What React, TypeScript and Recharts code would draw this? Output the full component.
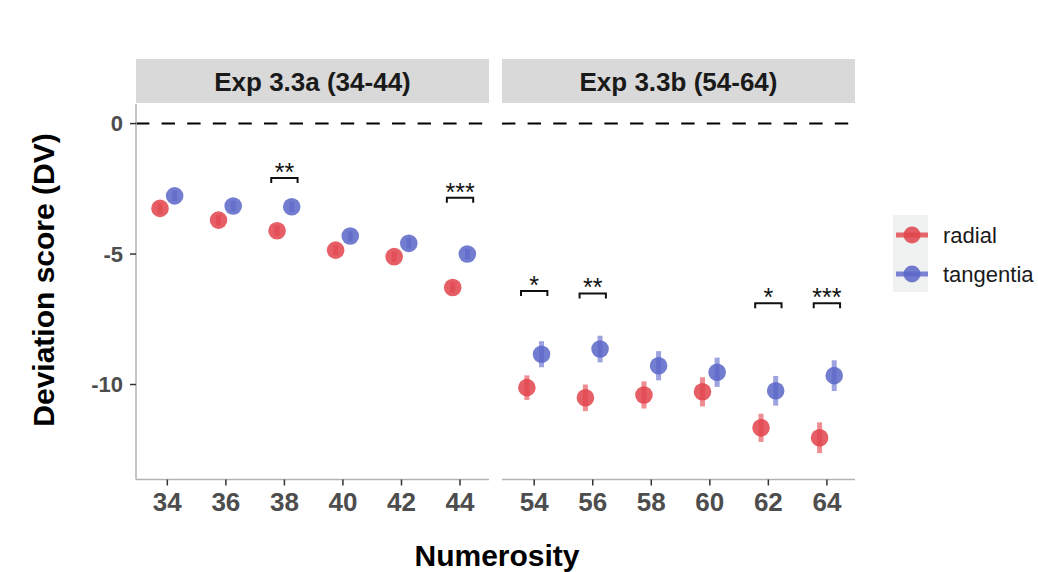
import React from "react";
import {
  ScatterChart,
  Scatter,
  XAxis,
  YAxis,
  ErrorBar,
  ReferenceLine,
} from "recharts";

// numerosity levels per experiment
const expAX = [34, 36, 38, 40, 42, 44];
const expBX = [54, 56, 58, 60, 62, 64];

// mean deviation scores
const radialA = [-3.25, -3.7, -4.11, -4.85, -5.1, -6.28];
const tangentialA = [-2.77, -3.16, -3.19, -4.31, -4.59, -5.0];
const radialB = [-10.12, -10.51, -10.4, -10.28, -11.66, -12.04];
const tangentialB = [-8.84, -8.64, -9.28, -9.53, -10.24, -9.66];

// error bar half-widths
const radialAErr = [0.2, 0.2, 0.2, 0.2, 0.2, 0.2];
const tangentialAErr = [0.2, 0.2, 0.2, 0.2, 0.2, 0.2];
const radialBErr = [0.47, 0.51, 0.52, 0.56, 0.54, 0.59];
const tangentialBErr = [0.5, 0.51, 0.56, 0.56, 0.57, 0.59];

// significance brackets
const sigAX = [38, 44];
const sigAY = [-2.09, -2.84];
const sigALabel = ["**", "***"];
const sigBX = [54, 56, 62, 64];
const sigBY = [-6.42, -6.51, -6.89, -6.89];
const sigBLabel = ["*", "**", "*", "***"];

const yTicks = [-10, -5, 0];
const yDomain: [number, number] = [-13.64, 0.75];

const RED = "#e2434b";
const BLUE = "#5b66c8";
const DODGE = 0.25;

const toPoints = (xs: number[], ys: number[], errs: number[], shift: number) =>
  xs.map((x, i) => ({ x: x + shift, y: ys[i], err: errs[i] }));

const dot = (color: string) => (p: any) =>
  <circle cx={p.cx} cy={p.cy} r={8.8} fill={color} fillOpacity={0.85} />;

const tickStyle = { fill: "#4d4d4d", fontWeight: "bold" as const };

interface PanelProps {
  xs: number[];
  radial: number[];
  tangential: number[];
  radialErr: number[];
  tangentialErr: number[];
  sigX: number[];
  sigY: number[];
  sigLabel: string[];
  domain: [number, number];
  showY: boolean;
  left: number;
  width: number;
}

function Panel(props: PanelProps) {
  const radialData = toPoints(props.xs, props.radial, props.radialErr, -DODGE);
  const tangData = toPoints(props.xs, props.tangential, props.tangentialErr, DODGE);
  const brackets = props.sigX.map((c, i) => [
    { x: c - 0.45, y: props.sigY[i] - 0.19 },
    { x: c - 0.45, y: props.sigY[i] },
    { x: c + 0.45, y: props.sigY[i] },
    { x: c + 0.45, y: props.sigY[i] - 0.19 },
  ]);
  const stars = props.sigX.map((c, i) => ({ x: c, y: props.sigY[i], label: props.sigLabel[i] }));

  return (
    <div style={{ position: "absolute", left: props.left, top: 0 }}>
      <ScatterChart
        width={props.width}
        height={572}
        margin={{ top: 104, right: 10, bottom: 52.5, left: props.showY ? 0 : 10 }}
      >
        <XAxis
          type="number"
          dataKey="x"
          domain={props.domain}
          ticks={props.xs}
          allowDataOverflow
          height={40}
          tick={{ ...tickStyle, fontSize: 26 }}
          tickSize={6}
          tickMargin={7}
          axisLine={{ stroke: "#b3b3b3", strokeWidth: 1.5 }}
          tickLine={{ stroke: "#333", strokeWidth: 1.5 }}
        />
        <YAxis
          type="number"
          dataKey="y"
          domain={yDomain}
          ticks={yTicks}
          allowDataOverflow
          hide={!props.showY}
          width={136}
          tick={{ ...tickStyle, fontSize: 22 }}
          tickSize={6}
          tickMargin={7}
          axisLine={{ stroke: "#b3b3b3", strokeWidth: 1.5 }}
          tickLine={{ stroke: "#333", strokeWidth: 1.5 }}
        />
        <ReferenceLine y={0} stroke="#000" strokeWidth={2} strokeDasharray="13.4 12.2" />
        <Scatter data={radialData} shape={dot(RED)} isAnimationActive={false}>
          <ErrorBar dataKey="err" direction="y" width={0} stroke={RED} strokeWidth={5} strokeOpacity={0.6} />
        </Scatter>
        <Scatter data={tangData} shape={dot(BLUE)} isAnimationActive={false}>
          <ErrorBar dataKey="err" direction="y" width={0} stroke={BLUE} strokeWidth={5} strokeOpacity={0.6} />
        </Scatter>
        {brackets.map((b, i) => (
          <Scatter
            key={"br" + i}
            data={b}
            line={{ stroke: "#111", strokeWidth: 2 }}
            lineJointType="linear"
            shape={() => <g />}
            isAnimationActive={false}
          />
        ))}
        <Scatter
          data={stars}
          isAnimationActive={false}
          shape={(p: any) => (
            <text x={p.cx} y={p.cy + 3} textAnchor="middle" fontSize={25} fill="#111">
              {p.payload.label}
            </text>
          )}
        />
      </ScatterChart>
    </div>
  );
}

export default function App() {
  return (
    <div
      style={{
        position: "absolute",
        left: 0,
        top: 0,
        width: 1038,
        height: 572,
        overflow: "hidden",
        background: "#fff",
        fontFamily: "'Liberation Sans', Arial, sans-serif",
      }}
    >
      <svg width={1038} height={572} style={{ position: "absolute", left: 0, top: 0 }}>
        <rect x={136} y={59} width={353} height={44} fill="#d9d9d9" />
        <rect x={502} y={59} width={353} height={44} fill="#d9d9d9" />
        <text x={312.5} y={90.5} textAnchor="middle" fontSize={26} fontWeight="bold" fill="#1a1a1a">
          Exp 3.3a (34-44)
        </text>
        <text x={678.5} y={90.5} textAnchor="middle" fontSize={26} fontWeight="bold" fill="#1a1a1a">
          Exp 3.3b (54-64)
        </text>
        <text
          transform="translate(54,280) rotate(-90)"
          textAnchor="middle"
          fontSize={30}
          fontWeight="bold"
          fill="#000"
        >
          Deviation score (DV)
        </text>
        <text x={497} y={566} textAnchor="middle" fontSize={30} fontWeight="bold" fill="#000">
          Numerosity
        </text>
        {/* legend */}
        <rect x={893} y={215} width={35} height={77} fill="#f0f2f2" />
        <line x1={896} x2={928} y1={235} y2={235} stroke={RED} strokeWidth={5} strokeOpacity={0.8} />
        <circle cx={912} cy={235} r={8.5} fill={RED} fillOpacity={0.85} />
        <line x1={896} x2={928} y1={274} y2={274} stroke={BLUE} strokeWidth={5} strokeOpacity={0.8} />
        <circle cx={912} cy={274} r={8.5} fill={BLUE} fillOpacity={0.85} />
        <text x={943} y={243} fontSize={22} fill="#1a1a1a">radial</text>
        <text x={943} y={282} fontSize={22} fill="#1a1a1a">tangentia</text>
      </svg>
      <Panel
        xs={expAX}
        radial={radialA}
        tangential={tangentialA}
        radialErr={radialAErr}
        tangentialErr={tangentialAErr}
        sigX={sigAX}
        sigY={sigAY}
        sigLabel={sigALabel}
        domain={[32.93, 44.99]}
        showY={true}
        left={0}
        width={499}
      />
      <Panel
        xs={expBX}
        radial={radialB}
        tangential={tangentialB}
        radialErr={radialBErr}
        tangentialErr={tangentialBErr}
        sigX={sigBX}
        sigY={sigBY}
        sigLabel={sigBLabel}
        domain={[52.9, 64.96]}
        showY={false}
        left={492}
        width={373}
      />
    </div>
  );
}
